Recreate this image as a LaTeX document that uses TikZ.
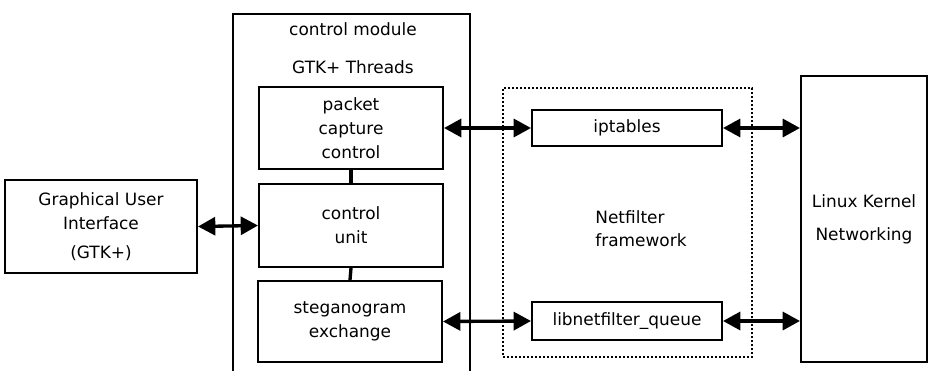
\documentclass[tikz,border=0pt]{standalone}
\usepackage{fontspec}
\setmainfont{DejaVu Sans}
\usetikzlibrary{calc}
\usetikzlibrary{arrows.meta}

\tikzset{
  blk/.style={draw=black,line width=1.5pt,inner sep=0pt,align=center,
              font=\fontsize{12.7}{18}\selectfont},
  sz/.style 2 args={minimum width=#1*0.75pt,minimum height=#2*0.75pt},
  link/.style={line width=2.5pt,{Triangle[length=13pt,width=13.5pt]}-{Triangle[length=13pt,width=13.5pt]}},
  tie/.style={line width=2.5pt},
  txt/.style={inner sep=0pt,font=\fontsize{12.7}{18}\selectfont}
}

\begin{document}
\begin{tikzpicture}[x=0.75pt,y=-0.75pt]
\useasboundingbox (0,0) rectangle (928,371);
% control module frame, open at the bottom
\draw[line width=1.5pt] (233,371)--(233,14)--(470,14)--(470,371);
\node[txt] (cmod) at (353,29) {control module};
\node[txt] (thr) at (353,67) {GTK+ Threads};
% blocks
\node[blk,sz={192}{93}] (gui) at (101,226.5)
  {Graphical User\\Interface\\[4pt](GTK+)};
\node[blk,sz={184}{82}] (pcc) at (351,128)
  {packet\\capture\\control};
\node[blk,sz={184}{83}] (cu) at (351,225.5)
  {control\\unit};
\node[blk,sz={184}{81}] (steg) at (350,321.5)
  {steganogram\\exchange};
\node[draw,line width=2pt,dash pattern=on 1.5pt off 1.5pt,sz={249}{269}] (nf) at (627.5,222.5) {};
\node[txt,align=left,font=\fontsize{12.7}{17}\selectfont] (nftxt) at (641,229) {Netfilter\\framework};
\node[blk,sz={190}{36}] (ipt) at (627,128) {iptables};
\node[blk,sz={190}{38}] (lnq) at (627,321) {libnetfilter\_queue};
\node[blk,sz={126}{286},font=\fontsize{12.7}{25}\selectfont] (kern) at (864,219)
  {Linux Kernel\\Networking};
% connectors
\draw[tie] (pcc.south)--(cu.north);
\draw[tie] (cu.south)--(steg.north);
\draw[link] (gui.east)--(cu.west);
\draw[link] (pcc.east)--(ipt.west);
\draw[link] (steg.east)--(lnq.west);
\draw[link] (ipt.east)--(ipt.east -| kern.west);
\draw[link] (lnq.east)--(lnq.east -| kern.west);
\end{tikzpicture}
\end{document}
